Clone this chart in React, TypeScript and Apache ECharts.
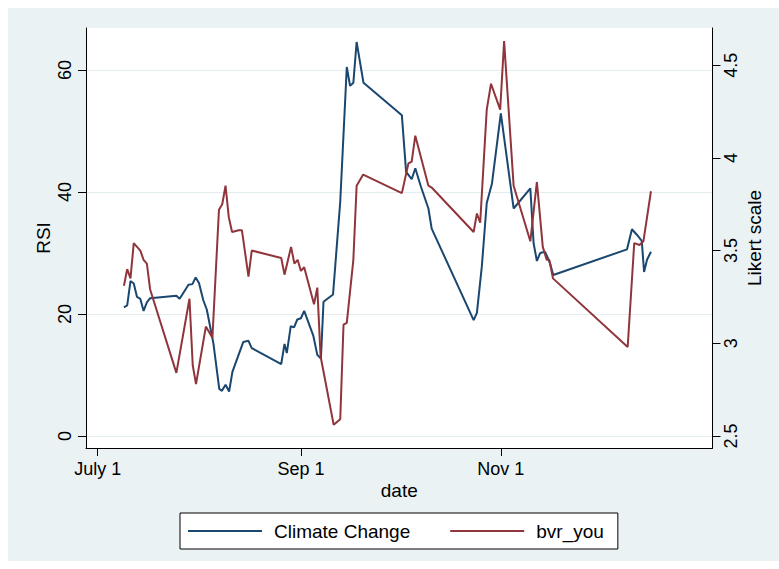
import React, { useEffect, useRef } from 'react';
import * as echarts from 'echarts';

// x = days since July 1
const xTickDays = [0, 62, 123];
const xTickLabels = ['July 1', 'Sep 1', 'Nov 1'];
const rsiTicks = [0, 20, 40, 60];
const likertTicks = [2.5, 3, 3.5, 4, 4.5];

const ccDays = [
  8, 9, 10, 11, 12, 13, 14, 15, 16, 24, 25, 27.7, 28.9, 29.9, 30.9, 32.2, 33.3, 35.3,
  37.1, 37.9, 39, 40.1, 41.1, 44.4, 46, 47, 56, 57, 57.7, 58.9, 59.9, 60.9, 62, 63,
  65.8, 67, 68.1, 68.9, 71.8, 74, 76, 77, 78, 79, 81.1, 92.8, 94.1, 95.8, 96.9, 98.6,
  100.9, 101.9, 114.7, 115.7, 117.2, 118.7, 120.3, 123, 126.9, 132, 133, 134, 135,
  136.5, 137.5, 138, 139, 161.5, 163, 164.5, 166, 166.7, 167.6, 168.8,
];
const ccRsi = [
  21.1, 21.4, 25.4, 25.0, 22.8, 22.5, 20.5, 21.9, 22.6, 23.0, 22.5, 24.8, 24.9, 26.0, 25.1, 22.3, 20.7, 15.2,
  7.7, 7.4, 8.4, 7.3, 10.5, 15.4, 15.6, 14.4, 11.8, 15.1, 13.6, 18.0, 17.8, 19.1, 19.3, 20.5,
  16.4, 13.3, 12.7, 22.0, 23.2, 38.4, 60.5, 57.4, 57.9, 64.6, 57.9, 52.6, 43.3, 42.1, 43.9, 40.9,
  37.3, 34.0, 19.0, 20.2, 27.8, 38.2, 41.4, 52.9, 37.3, 40.6, 31.6, 28.7, 30.0,
  30.2, 29.0, 28.3, 26.4, 30.6, 33.9, 33.0, 32.0, 26.9, 28.9, 30.2,
];

const bvrDays = [
  8, 9, 10, 11, 12, 13, 14, 15, 16, 24, 28, 29, 30, 33, 35, 37, 38, 39, 40, 41, 43, 44,
  46, 47, 56, 57, 59, 60, 61, 62, 63, 66, 67, 68, 72, 74, 75, 76, 78, 79, 81, 92.8, 94.8,
  95.8, 96.9, 100.9, 101.9, 114.7, 115.7, 116.7, 118.7, 120, 122.8, 124, 126.9, 132, 134,
  135.8, 137, 137.8, 138.9, 161.7, 163.7, 165.3, 166.5, 168.8,
];
const bvrLikert = [
  3.31, 3.40, 3.35, 3.54, 3.52, 3.50, 3.45, 3.43, 3.29, 2.84, 3.24, 2.88, 2.78, 3.09, 3.03, 3.72, 3.75, 3.85, 3.68, 3.60, 3.61, 3.61,
  3.36, 3.50, 3.46, 3.37, 3.52, 3.43, 3.45, 3.39, 3.41, 3.21, 3.30, 2.93, 2.56, 2.59, 3.10, 3.11, 3.45, 3.85, 3.91, 3.81, 3.97,
  3.98, 4.12, 3.85, 3.84, 3.60, 3.70, 3.65, 4.26, 4.40, 4.26, 4.63, 3.85, 3.55, 3.87,
  3.52, 3.45, 3.45, 3.35, 2.98, 3.54, 3.53, 3.55, 3.82,
];

const FONT = '"Liberation Sans", Arial, Helvetica, sans-serif';
const BLUE = '#1A476F';
const RED = '#90353B';

export default function App() {
  const ref = useRef<HTMLDivElement>(null);
  useEffect(() => {
    if (!ref.current) return;
    const chart = echarts.init(ref.current, undefined, { renderer: 'svg' });
    chart.setOption({
      animation: false,
      backgroundColor: '#EAF2F3',
      textStyle: { fontFamily: FONT, color: '#000' },
      grid: {
        left: 78,
        top: 20,
        right: 66.5,
        bottom: 113,
        show: true,
        backgroundColor: '#ffffff',
        borderWidth: 0,
        containLabel: false,
        outerBoundsMode: 'none',
      },
      legend: {
        show: true,
        left: 172,
        top: 505,
        orient: 'horizontal',
        icon: 'rect',
        itemWidth: 74,
        itemHeight: 2,
        itemGap: 40,
        padding: [8, 14, 8, 8],
        borderColor: '#000',
        borderWidth: 1,
        borderRadius: 0,
        backgroundColor: '#ffffff',
        textStyle: { fontSize: 19, color: '#000', fontFamily: FONT, lineHeight: 20, padding: [0, 0, 0, 7] },
        data: [
          { name: 'Climate Change', icon: 'rect', itemStyle: { color: BLUE } },
          { name: 'bvr_you', icon: 'rect', itemStyle: { color: RED } },
        ],
      },
      xAxis: {
        type: 'value',
        min: -3.57,
        max: 187.58,
        name: 'date',
        nameLocation: 'middle',
        nameGap: 33,
        nameMoveOverlap: false,
        nameTextStyle: { fontSize: 19, color: '#000', fontFamily: FONT },
        axisLine: { show: true, onZero: false, lineStyle: { color: '#000', width: 1 } },
        axisTick: { show: true, length: 8, customValues: xTickDays, lineStyle: { color: '#000' } },
        axisLabel: {
          customValues: xTickDays,
          margin: 12,
          fontSize: 18,
          color: '#000',
          fontFamily: FONT,
          formatter: (v: number) => {
            const i = xTickDays.indexOf(Math.round(v));
            return i >= 0 ? xTickLabels[i] : '';
          },
        },
        splitLine: { show: false },
      },
      yAxis: [
        {
          type: 'value',
          position: 'left',
          min: -1.967,
          max: 66.89,
          name: 'RSI',
          nameLocation: 'middle',
          nameGap: 33,
          nameMoveOverlap: false,
          nameTextStyle: { fontSize: 19, color: '#000', fontFamily: FONT },
          axisLine: { show: true, onZero: false, lineStyle: { color: '#000', width: 1 } },
          axisTick: { show: true, length: 8, customValues: rsiTicks, lineStyle: { color: '#000' } },
          axisLabel: {
            customValues: rsiTicks,
            rotate: 90,
            margin: 12,
            fontSize: 18,
            color: '#000',
            fontFamily: FONT,
          },
          splitLine: { show: false },
        },
        {
          type: 'value',
          position: 'right',
          min: 2.435,
          max: 4.7006,
          name: 'Likert scale',
          nameLocation: 'middle',
          nameGap: 32,
          nameMoveOverlap: false,
          nameTextStyle: { fontSize: 19, color: '#000', fontFamily: FONT },
          axisLine: { show: true, onZero: false, lineStyle: { color: '#000', width: 1 } },
          axisTick: { show: true, length: 8, customValues: likertTicks, lineStyle: { color: '#000' } },
          axisLabel: {
            customValues: likertTicks,
            rotate: 90,
            margin: 9,
            fontSize: 18,
            color: '#000',
            fontFamily: FONT,
          },
          splitLine: { show: false },
        },
      ],
      series: [
        {
          name: 'Climate Change',
          type: 'line',
          yAxisIndex: 0,
          data: ccDays.map((d, i) => [d, ccRsi[i]]),
          symbol: 'none',
          lineStyle: { color: BLUE, width: 2 },
          itemStyle: { color: BLUE },
          markLine: {
            silent: true,
            symbol: ['none', 'none'],
            label: { show: false },
            lineStyle: { color: '#E3ECEE', width: 1, type: 'solid' },
            data: rsiTicks.map((v) => ({ yAxis: v })),
            z: 0,
          },
          z: 2,
        },
        {
          name: 'bvr_you',
          type: 'line',
          yAxisIndex: 1,
          data: bvrDays.map((d, i) => [d, bvrLikert[i]]),
          symbol: 'none',
          lineStyle: { color: RED, width: 2 },
          itemStyle: { color: RED },
          z: 3,
        },
      ],
    });
    return () => chart.dispose();
  }, []);
  return (
    <div style={{ position: 'fixed', left: 0, top: 0, width: 779, height: 569, background: '#ffffff' }}>
      <div ref={ref} style={{ position: 'absolute', left: 8, top: 8, width: 771, height: 553 }} />
    </div>
  );
}
